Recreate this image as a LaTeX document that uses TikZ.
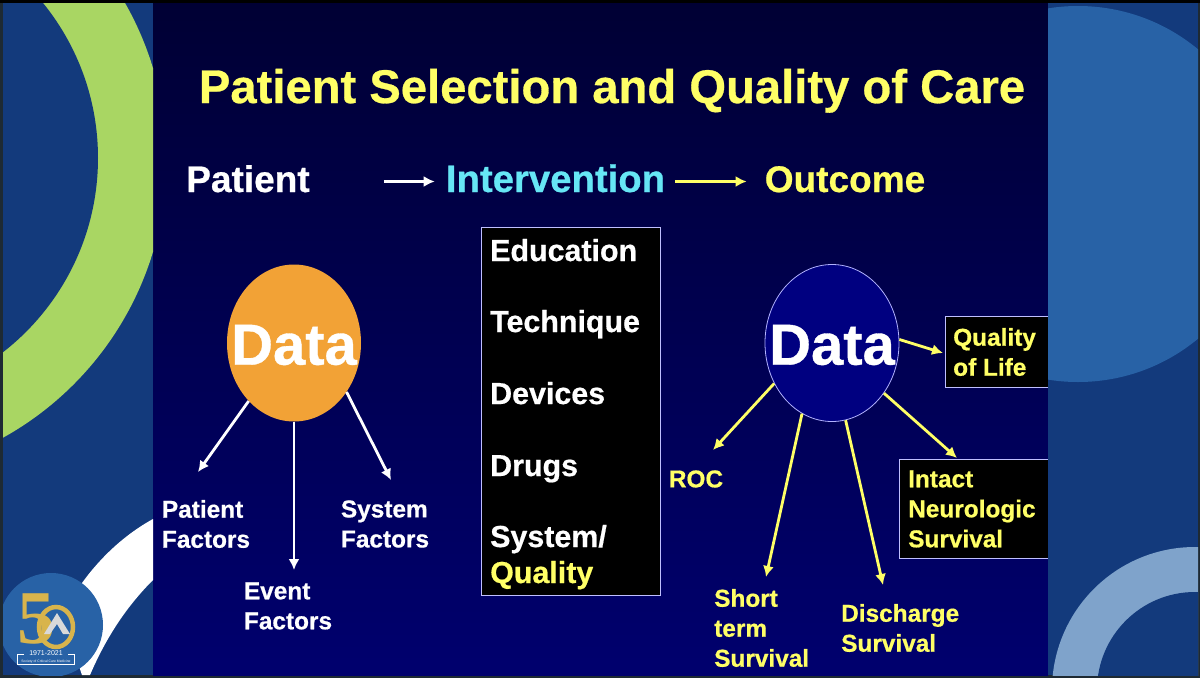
\documentclass[tikz,border=0pt]{standalone}
\usepackage{fontspec}
\setmainfont{Liberation Sans}[BoldFeatures={FakeBold=0.6}]
\newfontfamily\logofont{Liberation Serif}
\usepackage{tikz}
\usetikzlibrary{arrows.meta,shapes.geometric}
\definecolor{sideblue}{HTML}{133A7C}
\definecolor{midblue}{HTML}{2862A6}
\definecolor{paleblue}{HTML}{7FA3CB}
\definecolor{ringgreen}{HTML}{A9D663}
\definecolor{navytop}{HTML}{000034}
\definecolor{navybottom}{HTML}{00006E}
\definecolor{slideyellow}{HTML}{FFFF66}
\definecolor{slidecyan}{HTML}{66E6F5}
\definecolor{dataorange}{HTML}{F2A236}
\definecolor{logogold}{HTML}{D8B44C}
\definecolor{framegrey}{HTML}{1E2A33}

\begin{document}
\begin{tikzpicture}
        [x=1pt, y=-1pt,
        titlestyle/.style={font=\bfseries\fontsize{47.2}{56}\selectfont, text=slideyellow, inner sep=0},
        headstyle/.style={font=\bfseries\fontsize{37}{42}\selectfont, inner sep=0, text height=27pt, text depth=6pt},
        liststyle/.style={font=\bfseries\fontsize{30.4}{36}\selectfont, text=white, inner sep=0, anchor=base west},
        labelstyle/.style={font=\bfseries\fontsize{24.4}{30}\selectfont, inner sep=0, align=left},
        datastyle/.style={ellipse, inner sep=0, minimum width=134pt, minimum height=157pt},
        datatext/.style={inner sep=0, font=\bfseries\fontsize{58}{64}\selectfont, text=white},
        boxstyle/.style={rectangle, fill=black, draw=white!75!blue, line width=0.8pt, inner sep=0},
        wstyle/.style={-{Latex[length=11pt,width=11pt]}, line width=2.8pt, white},
        ystyle/.style={-{Latex[length=11pt,width=11pt]}, line width=2.8pt, slideyellow}]

        % frame and panels
        \useasboundingbox (0,0) rectangle (1200,678);
        \fill[framegrey] (0,0) rectangle (1200,678);
        \fill[black] (0,0) rectangle (1200,3);
        \fill[sideblue] (3,3) rectangle (1198,675);
        \shade[top color=navytop, bottom color=navybottom] (153,3) rectangle (1048,675);

        % left panel
        \begin{scope}
            \clip (3,3) rectangle (153,675);
            \fill[ringgreen] (-151,160) circle (317.5);
            \fill[sideblue] (-148,158) circle (246);
            \fill[white] (153,519) .. controls (124,535) and (100,558) .. (82,583)
                -- (70,640) -- (82,675) -- (90,675) .. controls (105,640) and (125,608) .. (153,580) -- cycle;
            \fill[midblue] (51,625) circle (52);
        \end{scope}

        % logo
        \node[inner sep=0, text=logogold, font=\logofont\bfseries\fontsize{76}{76}\selectfont] (five) at (36,619) {5};
        \draw[logogold, line width=4.5pt] (56,627) ellipse (17 and 20);
        \fill[white!70!gray] (44,634) -- (57,613) -- (70,634) -- (63,634) -- (57,624) -- (50,634) -- cycle;
        \node[inner sep=0, text=white, font=\fontsize{7}{8}\selectfont] (years) at (46,653) {1971-2021};
        \node[inner sep=0, text=white, font=\fontsize{3.4}{4}\selectfont] (society) at (46,661.5) {Society of Critical Care Medicine};
        \draw[white, line width=0.3pt] (24,654) -- (17,654) -- (17,664) -- (74,664) -- (74,654) -- (68,654);

        % title and header row
        \node[titlestyle, anchor=base] (title) at (612,103) {Patient Selection and Quality of Care};
        \node[headstyle, text=white] (patient) at (248,181.5) {Patient};
        \node[headstyle, text=slidecyan, font=\bfseries\fontsize{38.3}{42}\selectfont] (intervention) at (555.5,181.5) {Intervention};
        \node[headstyle, text=slideyellow] (outcome) at (845,181.5) {Outcome};
        \draw[wstyle, shorten <=74pt, shorten >=11pt] (patient.east) -- (intervention.west);
        \draw[ystyle, shorten <=10pt, shorten >=18pt] (intervention.east) -- (outcome.west);

        % left data
        \node[datastyle, fill=dataorange] (dataL) at (294,343) {};
        \node[datatext] (dataLtext) at (294,345) {Data};
        \node[labelstyle, text=white] (patientf) at (206,524) {Patient\\Factors};
        \node[labelstyle, text=white] (eventf) at (288,606) {Event\\Factors};
        \node[labelstyle, text=white] (systemf) at (385,524) {System\\Factors};
        \coordinate (patienttip) at (198,472);
        \coordinate (eventtip) at (294,570);
        \coordinate (systemtip) at (391,480);
        \draw[wstyle] (dataL.232) -- (patienttip);
        \draw[wstyle] (dataL.270) -- (eventtip);
        \draw[wstyle] (dataL.317) -- (systemtip);

        % middle list
        \node[boxstyle, minimum width=179pt, minimum height=368pt] (listbox) at (570.5,411) {};
        \node[liststyle] (education) at (490,261) {Education};
        \node[liststyle] (technique) at (490,332) {Technique};
        \node[liststyle] (devices) at (490,404) {Devices};
        \node[liststyle] (drugs) at (490,476) {Drugs};
        \node[liststyle] (system) at (490,547) {System/};
        \node[liststyle, text=slideyellow] (quality) at (490,583) {Quality};

        % right data
        \node[datastyle, fill=blue!50!black, draw=white!70!blue, line width=0.8pt] (dataR) at (832,343) {};
        \node[datatext] (dataRtext) at (832,345) {Data};
        \node[boxstyle, minimum width=110pt, minimum height=71pt] (qolbox) at (1000,351.5) {};
        \node[labelstyle, text=slideyellow, anchor=west] (qol) at (953,352) {Quality\\of Life};
        \node[boxstyle, minimum width=160pt, minimum height=99pt] (intactbox) at (979,508.5) {};
        \node[labelstyle, text=slideyellow, anchor=west] (intact) at (908,509) {Intact\\Neurologic\\Survival};
        \node[labelstyle, text=slideyellow] (roc) at (696,479) {ROC};
        \node[labelstyle, text=slideyellow, anchor=west] (short) at (714,628) {Short\\term\\Survival};
        \node[labelstyle, text=slideyellow, anchor=west] (discharge) at (841,628) {Discharge\\Survival};
        \coordinate (roctip) at (713,450);
        \coordinate (shorttip) at (766,577);
        \coordinate (dischargetip) at (883,585);
        \coordinate (qoltip) at (943,353);
        \coordinate (intacttip) at (957,458);
        \draw[ystyle] (dataR.215) -- (roctip);
        \draw[ystyle] (dataR.247) -- (shorttip);
        \draw[ystyle] (dataR.280) -- (dischargetip);
        \draw[ystyle] (dataR.316) -- (intacttip);
        \draw[ystyle] (dataR.3) -- (qoltip);

        % right panel
        \begin{scope}
            \clip (1048,3) rectangle (1198,675);
            \fill[sideblue] (1048,3) rectangle (1198,675);
            \fill[midblue] (1078,194) circle (188);
            \fill[paleblue] (1195,690) circle (143);
            \fill[sideblue] (1195,690) circle (98);
        \end{scope}
    \end{tikzpicture}
\end{document}
